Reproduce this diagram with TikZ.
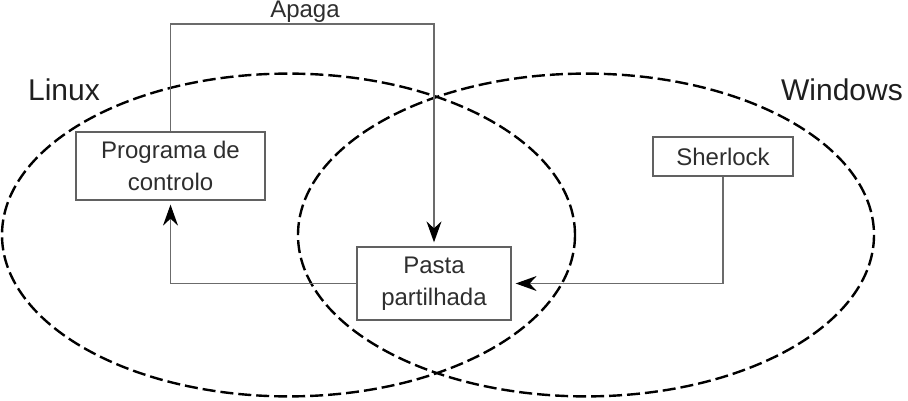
\documentclass[tikz,border=0pt]{standalone}
\usepackage{fontspec}
\setmainfont{Liberation Sans}
\usetikzlibrary{arrows.meta}
\begin{document}
\begin{tikzpicture}[x=1pt,y=-1pt,
  box/.style={draw=black!62, line width=1.3pt, inner sep=0pt, text=black!82,
    font=\fontsize{24}{32}\selectfont, align=center},
  conn/.style={draw=black!58, line width=1.3pt},
  arr/.style={conn, -{Stealth[length=21pt,width=15pt,inset=7pt,black]}, shorten >=4pt},
  setline/.style={draw=black, line width=2.4pt, dash pattern=on 13pt off 5pt},
  lab/.style={font=\fontsize{30}{36}\selectfont, text=black!88}]
\useasboundingbox (0,0) rectangle (908,401);
% sets
\draw[setline] (288.5,235) ellipse [x radius=286.5, y radius=161.4];
\draw[setline] (586,235) ellipse [x radius=288, y radius=161.4];
\node[lab] (linux) at (64,90) {Linux};
\node[lab] (windows) at (842,90) {Windows};
% boxes
\node[box, minimum width=189pt, minimum height=68pt] (prog) at (170.5,166) {Programa de\\controlo};
\node[box, minimum width=154pt, minimum height=73pt] (pasta) at (434,283.5) {Pasta\\partilhada};
\node[box, minimum width=140pt, minimum height=39pt] (sher) at (723,156.5) {Sherlock};
% connectors
\coordinate (top) at (305,24);
\draw[arr] (prog.north) |- (top) -| (pasta.north);
\node[font=\fontsize{24}{28}\selectfont, text=black!82, anchor=base] (apaga) at (305,17.5) {Apaga};
\draw[arr] (pasta.west) -| (prog.south);
\draw[arr] (sher.south) |- (pasta.east);
\end{tikzpicture}
\end{document}
